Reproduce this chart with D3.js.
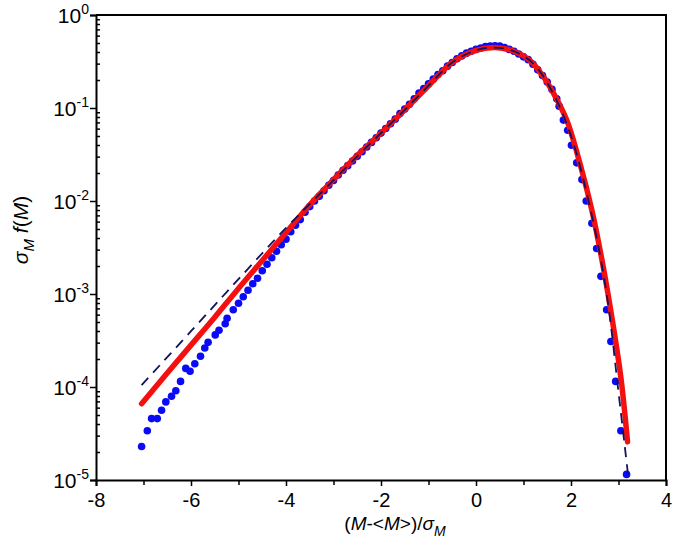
<!DOCTYPE html>
<html>
<head>
<meta charset="utf-8">
<script src="https://d3js.org/d3.v7.min.js"></script>
<style>
  body { margin: 0; background: #fff; }
  text { font-family: "Liberation Sans", Arial, sans-serif; }
</style>
</head>
<body>
<script>
  // blue points: [x, log10 of sigma f(M)]
  let bluePoints = [
    [-7.04,-4.64],[-6.92,-4.47],[-6.83,-4.34],[-6.71,-4.34],[-6.62,-4.25],[-6.53,-4.16],[-6.41,-4.10],
    [-6.32,-4.04],[-6.22,-3.94],[-6.11,-3.80],[-6.02,-3.83],[-5.92,-3.75],[-5.80,-3.67],[-5.71,-3.58],
    [-5.64,-3.52],[-5.49,-3.44],[-5.41,-3.39],[-5.28,-3.32],[-5.24,-3.26],[-5.11,-3.17],[-5.00,-3.10],
    [-4.90,-3.03],[-4.80,-2.96],[-4.70,-2.89],[-4.60,-2.83],[-4.50,-2.75],[-4.40,-2.68],[-4.30,-2.61],
    [-4.20,-2.54],[-4.10,-2.47],[-4.00,-2.41],[-3.90,-2.33],[-3.80,-2.26],[-3.70,-2.20],[-3.60,-2.12],
    [-3.50,-2.06],[-3.40,-2.00],[-3.30,-1.95],[-3.20,-1.89],[-3.10,-1.83],[-3.00,-1.78],[-2.90,-1.72],
    [-2.80,-1.67],[-2.70,-1.62],[-2.60,-1.57],[-2.50,-1.52],[-2.40,-1.47],[-2.30,-1.42],[-2.20,-1.37],
    [-2.10,-1.32],[-2.00,-1.27],[-1.90,-1.22],[-1.80,-1.17],[-1.70,-1.12],[-1.60,-1.06],[-1.50,-1.01],
    [-1.40,-0.96],[-1.30,-0.90],[-1.20,-0.84],[-1.10,-0.79],[-1.00,-0.74],[-0.90,-0.69],[-0.80,-0.64],
    [-0.70,-0.60],[-0.60,-0.55],[-0.50,-0.51],[-0.40,-0.47],[-0.30,-0.44],[-0.20,-0.41],[-0.10,-0.39],
    [0.00,-0.37],[0.10,-0.355],[0.20,-0.34],[0.30,-0.335],[0.40,-0.33],[0.50,-0.335],[0.60,-0.35],
    [0.70,-0.37],[0.80,-0.39],[0.90,-0.42],[1.00,-0.45],[1.10,-0.48],[1.20,-0.53],[1.30,-0.59],
    [1.40,-0.65],[1.50,-0.72],[1.60,-0.80],[1.70,-0.90],[1.75,-0.98],[1.84,-1.13],[1.93,-1.24],
    [2.01,-1.40],[2.12,-1.59],[2.23,-1.77],[2.32,-2.00],[2.44,-2.24],[2.54,-2.51],[2.63,-2.81],
    [2.75,-3.17],[2.84,-3.51],[2.94,-3.94],[3.05,-4.47],[3.17,-4.94]
  ];

  // red fit curve
  let redX = [-7.04,-6.5,-6.0,-5.5,-5.0,-4.5,-4.0,-3.5,-3.0,-2.5,-2.0,-1.5,-1.0,-0.5,0.0,0.4,0.8,1.14,1.4,1.63,1.91,2.19,2.44,2.65,2.86,3.05,3.19];
  let redLog = [-4.18,-3.85,-3.55,-3.25,-2.94,-2.64,-2.34,-2.04,-1.77,-1.51,-1.27,-1.02,-0.76,-0.51,-0.38,-0.35,-0.39,-0.49,-0.65,-0.84,-1.13,-1.60,-2.10,-2.63,-3.25,-3.90,-4.59];

  // dashed navy curve
  let navyX = [-7.04,-6.0,-5.0,-4.0,-3.2,-2.5,-2.0,-1.5,-1.0,-0.5,0.0,0.4,0.8,1.2,1.6,2.0,2.44,2.75,3.01,3.2];
  let navyLog = [-3.98,-3.40,-2.84,-2.29,-1.88,-1.52,-1.27,-1.02,-0.76,-0.51,-0.38,-0.35,-0.39,-0.52,-0.82,-1.30,-2.16,-3.00,-4.10,-4.94];

  let xTicks = [-8,-6,-4,-2,0,2,4];
  let xMinorTicks = [-7,-5,-3,-1,1,3];
  let yExponents = [0,-1,-2,-3,-4,-5];

  let width = 675, height = 550;
  let margin = {left: 96, top: 15, right: 9, bottom: 70};

  let svg = d3.select("body").append("svg")
    .attr("width", width)
    .attr("height", height);

  let x = d3.scaleLinear().domain([-8, 4]).range([margin.left, width - margin.right]);
  let y = d3.scaleLog().domain([1e-5, 1]).range([height - margin.bottom, margin.top]);

  // frame (top + right)
  svg.append("path")
    .attr("d", "M" + x(-8) + "," + y(1) + "H" + x(4) + "V" + y(1e-5))
    .attr("fill", "none")
    .attr("stroke", "#000")
    .attr("stroke-width", 2);

  // x axis
  let xAxis = svg.append("g")
    .attr("transform", "translate(0," + y(1e-5) + ")")
    .call(d3.axisBottom(x).tickValues(xTicks).tickSize(6).tickPadding(7).tickFormat(d3.format("d")));
  svg.append("g")
    .attr("transform", "translate(0," + y(1e-5) + ")")
    .call(d3.axisBottom(x).tickValues(xMinorTicks).tickSize(5).tickFormat(""))
    .call(g => g.select(".domain").remove());
  xAxis.selectAll("text").attr("font-size", 20).attr("fill", "#000")
    .text(d => d < 0 ? "-" + Math.abs(d) : d);

  // y axis
  let yMinor = [];
  yExponents.slice(1).forEach(e => {
    for (let k = 2; k <= 9; k++) yMinor.push(k * Math.pow(10, e));
  });
  svg.append("g")
    .attr("transform", "translate(" + x(-8) + ",0)")
    .call(d3.axisLeft(y).tickValues(yExponents.map(e => Math.pow(10, e))).tickSize(6).tickFormat(""));
  svg.append("g")
    .attr("transform", "translate(" + x(-8) + ",0)")
    .call(d3.axisRight(y).tickValues(yMinor).tickSize(4).tickFormat(""))
    .call(g => g.select(".domain").remove());

  svg.selectAll(".domain").attr("stroke-width", 2);
  svg.selectAll(".tick line").attr("stroke-width", 1.5);

  let yLabels = svg.append("g");
  yExponents.forEach(e => {
    let t = yLabels.append("text")
      .attr("x", x(-8) - 7)
      .attr("y", y(Math.pow(10, e)) + 8)
      .attr("text-anchor", "end")
      .attr("font-size", 21);
    t.append("tspan").text("10");
    t.append("tspan").attr("dy", -9).attr("font-size", 14).text(e === 0 ? "0" : "-" + Math.abs(e));
  });

  // data
  let line = d3.line()
    .x(d => x(d[0]))
    .y(d => y(Math.pow(10, d[1])))
    .curve(d3.curveCatmullRom);

  svg.append("g").selectAll("circle")
    .data(bluePoints)
    .enter()
    .append("circle")
    .attr("cx", d => x(d[0]))
    .attr("cy", d => y(Math.pow(10, d[1])))
    .attr("r", 3.8)
    .attr("fill", "#0a0af5");

  svg.append("path")
    .datum(redX.map((v, i) => [v, redLog[i]]))
    .attr("fill", "none")
    .attr("stroke", "#f41010")
    .attr("stroke-width", 5.5)
    .attr("stroke-linecap", "round")
    .attr("d", line);

  svg.append("path")
    .datum(navyX.map((v, i) => [v, navyLog[i]]))
    .attr("fill", "none")
    .attr("stroke", "#12125e")
    .attr("stroke-width", 1.8)
    .attr("stroke-dasharray", "10 7")
    .attr("d", line);

  // axis titles
  let xt = svg.append("text")
    .attr("x", 395)
    .attr("y", 530)
    .attr("text-anchor", "middle")
    .attr("font-size", 19);
  xt.append("tspan").text("(");
  xt.append("tspan").attr("font-style", "italic").text("M");
  xt.append("tspan").text("-<");
  xt.append("tspan").attr("font-style", "italic").text("M");
  xt.append("tspan").text(">)/");
  xt.append("tspan").attr("font-style", "italic").text("σ");
  xt.append("tspan").attr("font-style", "italic").attr("font-size", 14).attr("dy", 6).text("M");

  let yt = svg.append("text")
    .attr("transform", "translate(28,230) rotate(-90)")
    .attr("text-anchor", "middle")
    .attr("font-size", 21);
  yt.append("tspan").attr("font-style", "italic").text("σ");
  yt.append("tspan").attr("font-style", "italic").attr("font-size", 15).attr("dy", 6).text("M");
  yt.append("tspan").attr("dy", -6).text(" ");
  yt.append("tspan").attr("font-style", "italic").text("f");
  yt.append("tspan").text("(");
  yt.append("tspan").attr("font-style", "italic").text("M");
  yt.append("tspan").text(")");
</script>
</body>
</html>
